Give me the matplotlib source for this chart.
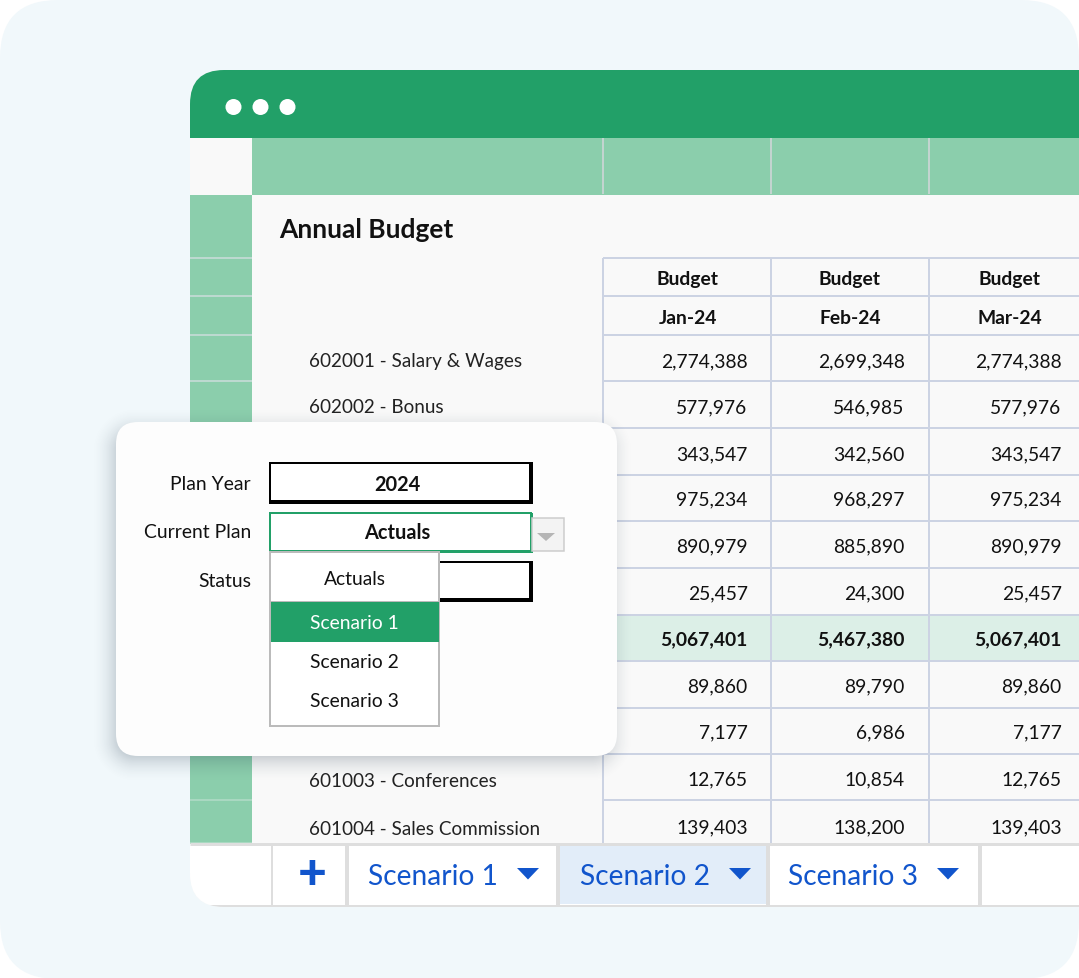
import numpy as np
import matplotlib
matplotlib.use("Agg")
import matplotlib.pyplot as plt
from matplotlib.patches import Rectangle, FancyBboxPatch, Polygon, Circle

plt.rcParams['font.family'] = ['Lato', 'DejaVu Sans']

# ---------- content ----------
title = "Annual Budget"
header_top = ["Budget", "Budget", "Budget"]
header_months = ["Jan-24", "Feb-24", "Mar-24"]
row_labels = ["602001 - Salary & Wages", "602002 - Bonus", "", "", "", "", "", "", "",
              "601003 - Conferences", "601004 - Sales Commission"]
jan = ["2,774,388", "577,976", "343,547", "975,234", "890,979", "25,457", "5,067,401", "89,860", "7,177", "12,765", "139,403"]
feb = ["2,699,348", "546,985", "342,560", "968,297", "885,890", "24,300", "5,467,380", "89,790", "6,986", "10,854", "138,200"]
mar = ["2,774,388", "577,976", "343,547", "975,234", "890,979", "25,457", "5,067,401", "89,860", "7,177", "12,765", "139,403"]
total_row = 6
form_labels = ["Plan Year", "Current Plan", "Status"]
form_values = ["2024", "Actuals"]
dropdown_items = ["Actuals", "Scenario 1", "Scenario 2", "Scenario 3"]
tabs = ["Scenario 1", "Scenario 2", "Scenario 3"]

# ---------- layout (pixels) ----------
W, H = 1079, 979
col_x = [603, 771, 929]
val_right = [747.6, 904.6, 1061.6]
hdr_center = [688, 850, 1010]
row_edges = [335, 381, 428, 475, 521, 568, 615, 661, 708, 754, 800, 843]
val_y = [360, 406, 452.5, 498, 544.5, 592, 638, 684.5, 731, 778, 826]
lab_y = [360, 406, 453, 498, 545, 592, 638, 685, 731, 780, 828]

GREEN, LIGHT, BG, LINE = "#22a068", "#8bceac", "#f1f8fb", "#ccd3e3"
BLUE = "#1155cc"

fig = plt.figure(figsize=(W / 100, H / 100), dpi=100, facecolor="white")
ax = fig.add_axes([0, 0, 1, 1])
YLIM = (H - 1, -1)
ax.set_xlim(0, W)
ax.set_ylim(*YLIM)
ax.axis("off")


def rrect(x0, y0, x1, y1, r, fc, ec="none", lw=0, z=1, **kw):
    p = FancyBboxPatch((x0 + r, y0 + r), x1 - x0 - 2 * r, y1 - y0 - 2 * r,
                       boxstyle=f"round,pad={r},rounding_size={r}",
                       fc=fc, ec=ec, lw=lw, zorder=z, **kw)
    ax.add_patch(p)
    return p


def px(n):
    return n * 0.72


def label(x, y, s, size=19.3, **kw):
    kw.setdefault("color", "#111111")
    kw.setdefault("va", "center")
    kw.setdefault("zorder", 15)
    return ax.text(x, y + 1, s, fontsize=px(size), **kw)


# background card
rrect(0, 0, W, H, 58, BG, z=0)

# window
win = rrect(190, 70, W + 120, 907, 34, "#f9f9f9", z=1)


def rect(x0, y0, x1, y1, fc, z=2):
    p = Rectangle((x0, y0), x1 - x0, y1 - y0, fc=fc, ec="none", zorder=z)
    ax.add_patch(p)
    p.set_clip_path(win)
    return p


def hline(y, x0, x1, c=LINE, w=2, z=3):
    l, = ax.plot([x0, x1], [y, y], color=c, lw=px(w), zorder=z, solid_capstyle="butt")
    l.set_clip_path(win)


def vline(x, y0, y1, c=LINE, w=2, z=3):
    l, = ax.plot([x, x], [y0, y1], color=c, lw=px(w), zorder=z, solid_capstyle="butt")
    l.set_clip_path(win)


rect(190, 70, W, 138, GREEN)
rect(252, 138, W, 195, LIGHT)
rect(190, 195, 252, 843, LIGHT)
for x in col_x:
    vline(x, 138, 194, "#c3d4d0")
for y in [258, 296, 335, 381, 428]:
    hline(y, 190, 252, "#bcd9d0")
for y in row_edges[3:]:
    hline(y, 190, 252, "#a9d8c1")
for cx in [233.5, 260.5, 287.5]:
    ax.add_patch(Circle((cx, 107), 8, fc="white", ec="none", zorder=4))

label(279, 228, title, size=26.4, fontweight="bold", ha="left", zorder=5)

# table
rect(603, row_edges[total_row], W, row_edges[total_row + 1], "#dcefe7")
for y in [258, 296] + row_edges[:-1]:
    hline(y, 603, W)
for x in col_x:
    vline(x, 258, 843)
for i in range(3):
    label(hdr_center[i], 278, header_top[i], fontweight="bold", ha="center", zorder=5)
    label(hdr_center[i], 317, header_months[i], fontweight="bold", ha="center", zorder=5)
for r, y in enumerate(val_y):
    wt = "bold" if r == total_row else "normal"
    for c, col in enumerate([jan, feb, mar]):
        label(val_right[c], y, col[r], fontweight=wt, ha="right", zorder=5)
for lab, y in zip(row_labels, lab_y):
    if lab:
        label(309, y, lab, size=18.9, ha="left", color="#222222", zorder=5)

# tab strip
rect(190, 844, W, 906, "white", z=6)
hline(844, 190, W, "#dedede", 3, z=7)
hline(906, 190, W, "#dedede", 3, z=7)
rect(560, 846, 768, 904, "#e2edf9", z=6)
for x, w in [(272, 2), (347, 4), (558, 4), (768, 4), (980, 4)]:
    vline(x, 845, 905, "#dedede", w, z=7)
label(312, 872.5, "+", size=50, fontweight="black", color=BLUE, ha="center", zorder=8)
tab_x = [368, 580, 788]
tri_x = [528, 740, 948]
for lab, x, tx in zip(tabs, tab_x, tri_x):
    label(x, 875, lab, size=28.1, color=BLUE, ha="left", zorder=8)
    ax.add_patch(Polygon([(tx - 11, 868), (tx + 11, 868), (tx, 879.5)], closed=True, fc=BLUE, ec="none", zorder=8))

# card shadow
yy, xx = np.mgrid[380:830, 60:680]
cx0, cx1, cy0, cy1, rad = 116 - 4, 617 - 4, 422 + 6, 756 + 6, 22
qx = np.abs(xx + .5 - (cx0 + cx1) / 2) - (cx1 - cx0) / 2 + rad
qy = np.abs(yy + .5 - (cy0 + cy1) / 2) - (cy1 - cy0) / 2 + rad
sd = np.hypot(np.maximum(qx, 0), np.maximum(qy, 0)) + np.minimum(np.maximum(qx, qy), 0) - rad
alpha = np.clip(0.5 - sd / 44, 0, 1) ** 2 * 0.5
img = np.zeros(sd.shape + (4,))
img[..., :3] = [0.10, 0.18, 0.26]
img[..., 3] = alpha
ax.imshow(img, extent=(60, 680, 830, 380), zorder=9, interpolation="bilinear", aspect="auto")
ax.set_xlim(0, W)
ax.set_ylim(*YLIM)

# card
rrect(116, 422, 617, 756, 22, "#fdfdfd", z=10)
for lab, y, in zip(form_labels, [483, 531, 580]):
    label(251, y, lab, size=19.4, ha="right")


def black_box(y0, y1):
    ax.add_patch(Rectangle((270, y0), 260, y1 - y0, fc="white", ec="black", lw=px(2), zorder=11))
    ax.add_patch(Rectangle((529, y0 - 1), 4, y1 - y0 + 3, fc="black", ec="none", zorder=11))
    ax.add_patch(Rectangle((269, y1 - 1), 264, 4, fc="black", ec="none", zorder=11))


black_box(463, 501)
black_box(562, 599)
label(397.5, 483, form_values[0], size=20, fontweight="bold", ha="center")

# current plan
ax.add_patch(Rectangle((270, 513), 261, 39, fc="white", ec=GREEN, lw=px(2), zorder=12))
ax.add_patch(Rectangle((270, 550), 263, 3, fc=GREEN, ec="none", zorder=12))
ax.add_patch(Rectangle((530, 513), 3, 40, fc=GREEN, ec="none", zorder=12))
label(397.5, 531, form_values[1], size=20, fontweight="bold", ha="center")
ax.add_patch(Rectangle((532, 518), 32, 33, fc="#f3f3f3", ec="#cccccc", lw=px(1.5), zorder=12))
ax.add_patch(Polygon([(537, 533), (555, 533), (546, 541)], closed=True, fc="#b5b5b5", ec="none", zorder=13))

# dropdown
ax.add_patch(Rectangle((270, 552), 169, 174, fc="white", ec="#bbbbbb", lw=px(2), zorder=13))
ax.add_patch(Rectangle((271, 601), 168, 41, fc=GREEN, ec="none", zorder=14))
ax.plot([271, 439], [601, 601], color="#bbbbbb", lw=px(1), zorder=14)
for lab, y, c in zip(dropdown_items, [578, 622, 661, 700], ["#111111", "white", "#111111", "#111111"]):
    label(354.5, y, lab, ha="center", color=c)

fig.savefig("out.png", dpi=100, facecolor="white")
